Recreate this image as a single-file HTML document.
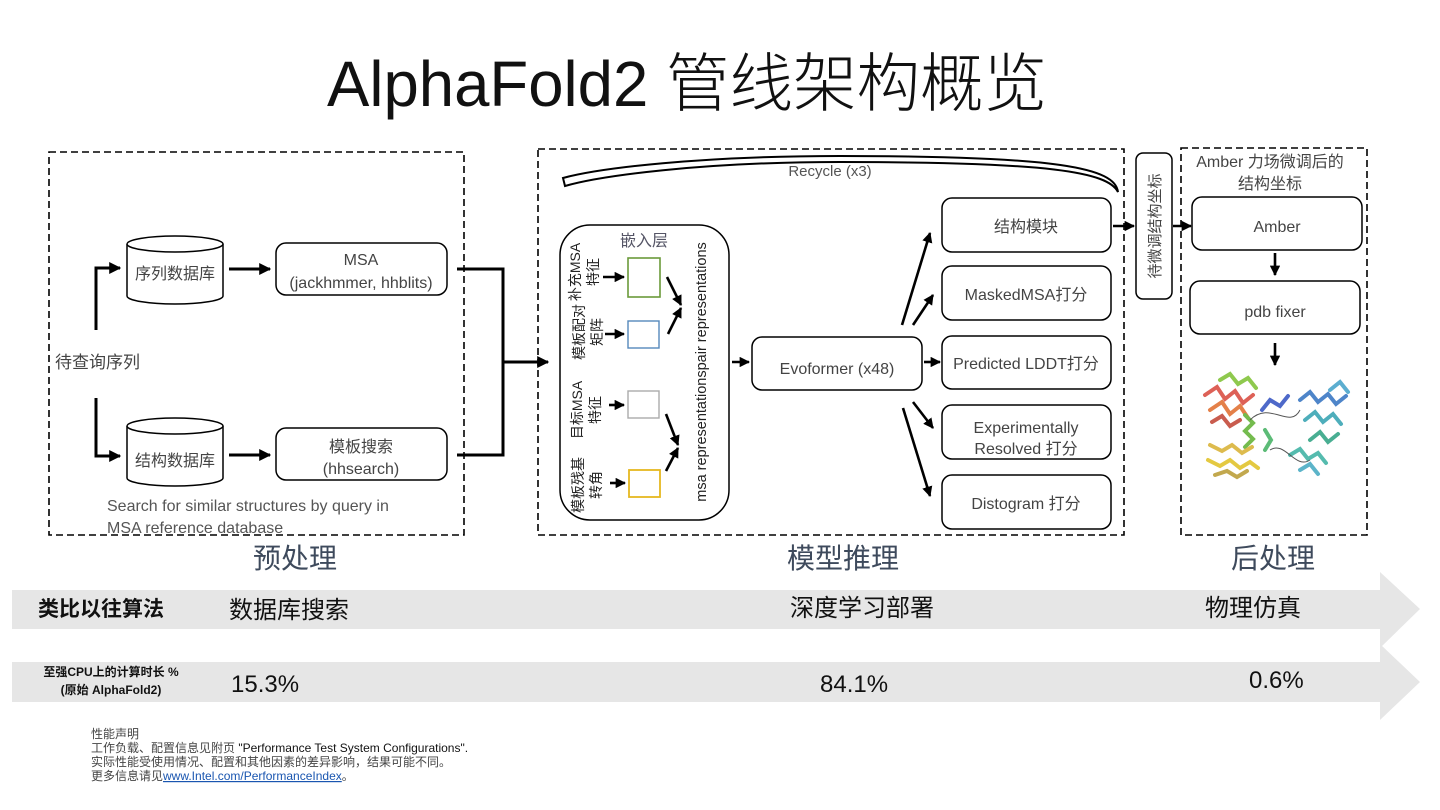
<!DOCTYPE html>
<html><head><meta charset="utf-8"><style>
html,body{margin:0;padding:0;background:#fff;}
svg{display:block;}
text{font-family:"Liberation Sans","Noto Sans CJK SC",sans-serif;}
</style></head><body>
<svg width="1440" height="810" viewBox="0 0 1440 810" xmlns="http://www.w3.org/2000/svg">
<defs>
<marker id="a" viewBox="0 0 10 10" refX="9" refY="5" markerWidth="4" markerHeight="4" orient="auto"><path d="M0,0L10,5L0,10z" fill="#000"/></marker>
</defs>
<text x="327" y="106" font-size="64" fill="#111" textLength="720" lengthAdjust="spacingAndGlyphs" style="font-weight:300">AlphaFold2 管线架构概览</text>

<g fill="none" stroke="#000" stroke-width="1.6" stroke-dasharray="7,4">
<rect x="49" y="152" width="415" height="383"/>
<rect x="538" y="149" width="586" height="386"/>
<rect x="1181" y="148" width="186" height="387"/>
</g>

<g font-size="17" fill="#444">
<text x="55" y="368">待查询序列</text>
</g>
<g stroke="#000" stroke-width="3" fill="none">
<path d="M96,330V268H120" marker-end="url(#a)"/>
<path d="M96,398V456H120" marker-end="url(#a)"/>
<path d="M229,269H270" marker-end="url(#a)"/>
<path d="M229,455H270" marker-end="url(#a)"/>
<path d="M457,269H503V455H457"/>
<path d="M503,362H548" marker-end="url(#a)"/>
</g>
<g stroke="#000" stroke-width="1.5" fill="#fff">
<path d="M127,244V296A48,8 0 0 0 223,296V244"/>
<ellipse cx="175" cy="244" rx="48" ry="8"/>
<path d="M127,426V478A48,8 0 0 0 223,478V426"/>
<ellipse cx="175" cy="426" rx="48" ry="8"/>
<rect x="276" y="243" width="171" height="52" rx="10"/>
<rect x="276" y="428" width="171" height="52" rx="10"/>
</g>
<g font-size="16" fill="#444" text-anchor="middle">
<text x="175" y="279">序列数据库</text>
<text x="175" y="466">结构数据库</text>
<text x="361" y="265">MSA</text>
<text x="361" y="288">(jackhmmer, hhblits)</text>
<text x="361" y="452">模板搜索</text>
<text x="361" y="474">(hhsearch)</text>
</g>
<g font-size="16" fill="#555">
<text x="107" y="511">Search for similar structures by query in</text>
<text x="107" y="533">MSA reference database</text>
</g>

<path d="M1118,192C1115,168 1060,156 840,156C700,156 600,168 563,178L565,186C600,176 700,162 840,162C1050,162 1108,172 1118,192Z" fill="#fff" stroke="#000" stroke-width="2"/>
<text x="830" y="176" font-size="15" fill="#555" text-anchor="middle">Recycle (x3)</text>

<rect x="560" y="225" width="169" height="295" rx="30" fill="#fff" stroke="#000" stroke-width="1.5"/>
<text x="644" y="246" font-size="16" fill="#556" text-anchor="middle">嵌入层</text>
<rect x="628" y="258" width="32" height="39" fill="none" stroke="#6a9a3a" stroke-width="1.6"/>
<rect x="628" y="321" width="31" height="27" fill="none" stroke="#5588bb" stroke-width="1.4"/>
<rect x="628" y="391" width="31" height="27" fill="none" stroke="#aaa" stroke-width="1.4"/>
<rect x="629" y="470" width="31" height="27" fill="none" stroke="#e5b820" stroke-width="1.8"/>
<g font-size="14" fill="#222" text-anchor="middle">
<text transform="translate(580,272) rotate(-90)">补充MSA</text>
<text transform="translate(598,272) rotate(-90)">特征</text>
<text transform="translate(584,332) rotate(-90)">模板配对</text>
<text transform="translate(602,332) rotate(-90)">矩阵</text>
<text transform="translate(582,410) rotate(-90)">目标MSA</text>
<text transform="translate(600,410) rotate(-90)">特征</text>
<text transform="translate(583,485) rotate(-90)">模板残基</text>
<text transform="translate(601,485) rotate(-90)">转角</text>
<text transform="translate(706,372) rotate(-90)" font-size="14.5">msa representationspair representations</text>
</g>
<g stroke="#000" stroke-width="2.6" fill="none">
<path d="M603,277H624" marker-end="url(#a)"/>
<path d="M605,334H624" marker-end="url(#a)"/>
<path d="M609,405H624" marker-end="url(#a)"/>
<path d="M610,483H625" marker-end="url(#a)"/>
<path d="M667,277L681,305" marker-end="url(#a)"/>
<path d="M668,334L681,308" marker-end="url(#a)"/>
<path d="M666,414L678,445" marker-end="url(#a)"/>
<path d="M666,471L678,448" marker-end="url(#a)"/>
<path d="M732,362H749" marker-end="url(#a)"/>
<path d="M924,362H940" marker-end="url(#a)"/>
<path d="M902,325L930,233" marker-end="url(#a)"/>
<path d="M913,325L933,295" marker-end="url(#a)"/>
<path d="M913,402L933,428" marker-end="url(#a)"/>
<path d="M903,408L930,496" marker-end="url(#a)"/>
<path d="M1113,226H1134" marker-end="url(#a)"/>
<path d="M1173,226H1191" marker-end="url(#a)"/>
<path d="M1275,253V275" marker-end="url(#a)"/>
<path d="M1275,343V365" marker-end="url(#a)"/>
</g>
<g stroke="#000" stroke-width="1.5" fill="#fff">
<rect x="752" y="337" width="170" height="53" rx="10"/>
<rect x="942" y="198" width="169" height="54" rx="10"/>
<rect x="942" y="266" width="169" height="54" rx="10"/>
<rect x="942" y="336" width="169" height="53" rx="10"/>
<rect x="942" y="405" width="169" height="54" rx="10"/>
<rect x="942" y="475" width="169" height="54" rx="10"/>
<rect x="1136" y="153" width="36" height="146" rx="7"/>
<rect x="1192" y="197" width="170" height="53" rx="10"/>
<rect x="1190" y="281" width="170" height="53" rx="10"/>
</g>
<g font-size="16" fill="#444" text-anchor="middle">
<text x="837" y="374">Evoformer (x48)</text>
<text x="1026" y="232">结构模块</text>
<text x="1026" y="300">MaskedMSA打分</text>
<text x="1026" y="369">Predicted LDDT打分</text>
<text x="1026" y="433">Experimentally</text>
<text x="1026" y="454">Resolved 打分</text>
<text x="1026" y="509">Distogram 打分</text>
<text transform="translate(1160,226) rotate(-90)" font-size="15">待微调结构坐标</text>
<text x="1270" y="167">Amber 力场微调后的</text>
<text x="1270" y="189">结构坐标</text>
<text x="1277" y="232">Amber</text>
<text x="1275" y="317">pdb fixer</text>
</g>
<g stroke-width="4" fill="none" stroke-linecap="round" opacity="0.85">
<path d="M1205,395l12,-8l8,12l10,-8l8,12l10,-8" stroke="#d8463a"/>
<path d="M1210,410l12,-8l8,12l10,-8l8,12" stroke="#e06a2a"/>
<path d="M1212,422l10,-6l8,10l10,-6" stroke="#c04030"/>
<path d="M1220,380l10,-6l8,10l10,-6l8,10" stroke="#7cc030"/>
<path d="M1245,415l8,8l-8,8l8,8l-8,8" stroke="#5cb030"/>
<path d="M1210,445l12,6l10,-6l10,8l10,-6" stroke="#d8b030"/>
<path d="M1208,460l12,6l10,-6l10,8l10,-6l8,6" stroke="#e0c020"/>
<path d="M1215,475l12,-4l10,6l10,-6" stroke="#b89a30"/>
<path d="M1262,410l8,-10l10,6l8,-10" stroke="#3050c0"/>
<path d="M1300,400l10,-8l8,10l10,-8l8,10l10,-8" stroke="#3070c0"/>
<path d="M1305,420l10,-8l8,10l10,-8l8,10" stroke="#30a0b0"/>
<path d="M1310,440l10,-8l8,10l10,-8" stroke="#2aa080"/>
<path d="M1290,455l10,-6l8,10l10,-6l8,10" stroke="#38b0a0"/>
<path d="M1300,470l10,-6l8,10" stroke="#40a8c0"/>
<path d="M1265,430l6,10l-6,10" stroke="#40b060"/>
<path d="M1330,390l10,-8l8,10" stroke="#40a0c8"/>
</g>
<g stroke="#555" stroke-width="1" fill="none">
<path d="M1250,420C1270,400 1290,430 1300,410M1270,450C1285,440 1295,470 1310,460"/>
</g>

<g font-size="28" fill="#3e4a5c" text-anchor="middle">
<text x="295" y="568">预处理</text>
<text x="843" y="568">模型推理</text>
<text x="1273" y="568">后处理</text>
</g>

<path d="M12,590H1380V572L1420,609L1380,648V629H12Z" fill="#e6e6e6"/>
<path d="M12,662H1380V644L1420,682L1380,720V702H12Z" fill="#e6e6e6"/>
<g font-size="24" fill="#111">
<text x="38" y="616" font-size="21" font-weight="bold">类比以往算法</text>
<text x="229" y="618">数据库搜索</text>
<text x="790" y="616">深度学习部署</text>
<text x="1205" y="616">物理仿真</text>
<text x="231" y="692">15.3%</text>
<text x="820" y="692">84.1%</text>
<text x="1249" y="688">0.6%</text>
</g>
<g font-size="12" font-weight="bold" fill="#111" text-anchor="middle">
<text x="111" y="676">至强CPU上的计算时长 %</text>
<text x="111" y="694">(原始 AlphaFold2)</text>
</g>
<g font-size="12" fill="#444">
<text x="91" y="738">性能声明</text>
<text x="91" y="752">工作负载、配置信息见附页 <tspan fill="#111">"Performance Test System Configurations".</tspan></text>
<text x="91" y="766">实际性能受使用情况、配置和其他因素的差异影响，结果可能不同。</text>
<text x="91" y="780">更多信息请见<tspan fill="#1a56b0" text-decoration="underline">www.Intel.com/PerformanceIndex</tspan>。</text>
</g>
</svg>
</body></html>
